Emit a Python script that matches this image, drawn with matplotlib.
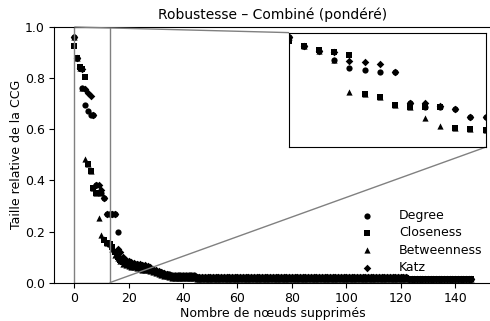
import matplotlib
matplotlib.use("Agg")
import matplotlib.pyplot as plt
import numpy as np
from mpl_toolkits.axes_grid1.inset_locator import mark_inset

title = "Robustesse – Combiné (pondéré)"
xlabel = "Nombre de nœuds supprimés"
ylabel = "Taille relative de la CCG"
labels = ["Degree", "Closeness", "Betweenness", "Katz"]
markers = ["o", "s", "^", "D"]

degree = [
    0.96, 0.88, 0.84, 0.76, 0.695, 0.67, 0.654, 0.654, 0.384, 0.35,
    0.35, 0.33, 0.267, 0.267, 0.267, 0.267, 0.197, 0.097, 0.09, 0.085,
    0.08, 0.075, 0.075, 0.072, 0.07, 0.07, 0.065, 0.06, 0.058, 0.05,
    0.045, 0.043, 0.04, 0.035, 0.035, 0.033, 0.032, 0.032, 0.032, 0.032,
    0.032, 0.032, 0.032, 0.032, 0.032,
    0.022, 0.022, 0.022, 0.022, 0.022, 0.022, 0.022, 0.022, 0.022, 0.022, 0.022, 0.022, 0.022,
    0.022, 0.022, 0.022, 0.022, 0.022, 0.022, 0.022, 0.022, 0.022, 0.022, 0.022, 0.022, 0.022,
    0.022, 0.022, 0.022, 0.022, 0.022, 0.022, 0.022, 0.022, 0.022, 0.022, 0.022, 0.022, 0.022,
    0.022, 0.022, 0.022, 0.022, 0.022, 0.022, 0.022, 0.022, 0.022, 0.022, 0.022, 0.022, 0.022,
    0.022, 0.022, 0.022, 0.022, 0.022, 0.022, 0.022, 0.022, 0.022, 0.022, 0.022, 0.022, 0.022,
    0.022, 0.022, 0.022, 0.022, 0.022, 0.022, 0.022, 0.022, 0.022, 0.022, 0.022, 0.022, 0.022,
    0.014, 0.014, 0.014, 0.014, 0.014, 0.014, 0.014, 0.014, 0.014, 0.014, 0.014, 0.014,
    0.014, 0.014, 0.014, 0.014, 0.014, 0.014, 0.014, 0.014, 0.014, 0.014, 0.014, 0.014,
]

closeness = [
    0.925, 0.88, 0.845, 0.834, 0.805, 0.465, 0.436, 0.37, 0.35, 0.35,
    0.35, 0.166, 0.157, 0.151, 0.14, 0.12, 0.10, 0.09, 0.08, 0.075,
    0.07, 0.065, 0.063, 0.063, 0.06, 0.058, 0.055, 0.05, 0.048, 0.045,
    0.04, 0.038, 0.035, 0.03, 0.03, 0.028, 0.025, 0.023, 0.02, 0.02,
    0.02, 0.02, 0.02, 0.02, 0.02,
    0.02, 0.02, 0.02, 0.02, 0.02, 0.02, 0.02, 0.02, 0.02, 0.02, 0.02, 0.02, 0.02,
    0.02, 0.02, 0.02, 0.02, 0.02, 0.02, 0.02, 0.02, 0.02, 0.02, 0.02, 0.02, 0.02,
    0.02, 0.02, 0.02, 0.02, 0.02, 0.02, 0.02, 0.02, 0.02, 0.02, 0.02, 0.02, 0.02,
    0.02, 0.02, 0.02, 0.02, 0.02, 0.02, 0.02, 0.02, 0.02, 0.02, 0.02, 0.02, 0.02,
    0.02, 0.02, 0.02, 0.02, 0.02, 0.02, 0.02, 0.02, 0.02, 0.02, 0.02, 0.02, 0.02,
    0.02, 0.02, 0.02, 0.02, 0.02, 0.02, 0.02, 0.02, 0.02, 0.02, 0.02, 0.02, 0.02,
    0.013, 0.013, 0.013, 0.013, 0.013, 0.013, 0.013, 0.013, 0.013, 0.013, 0.013, 0.013,
    0.013, 0.013, 0.013, 0.013, 0.013, 0.013, 0.013, 0.013, 0.013, 0.013, 0.013, 0.013,
]

betweenness = [
    0.96, 0.88, 0.84, 0.76, 0.485, 0.465, 0.436, 0.37, 0.35, 0.253,
    0.186, 0.17, 0.157, 0.151, 0.13, 0.11, 0.095, 0.085, 0.075, 0.07,
    0.065, 0.063, 0.06, 0.058, 0.055, 0.05, 0.05, 0.048, 0.045, 0.04,
    0.038, 0.035, 0.03, 0.028, 0.025, 0.023, 0.02, 0.02, 0.02, 0.02,
    0.02, 0.02, 0.02, 0.02, 0.02,
    0.013, 0.013, 0.013, 0.013, 0.013, 0.013, 0.013, 0.013, 0.013, 0.013, 0.013, 0.013, 0.013,
    0.013, 0.013, 0.013, 0.013, 0.013, 0.013, 0.013, 0.013, 0.013, 0.013, 0.013, 0.013, 0.013,
    0.013, 0.013, 0.013, 0.013, 0.013, 0.013, 0.013, 0.013, 0.013, 0.013, 0.013, 0.013, 0.013,
    0.013, 0.013, 0.013, 0.013, 0.013, 0.013, 0.013, 0.013, 0.013, 0.013, 0.013, 0.013, 0.013,
    0.013, 0.013, 0.013, 0.013, 0.013, 0.013, 0.013, 0.013, 0.013, 0.013, 0.013, 0.013, 0.013,
    0.013, 0.013, 0.013, 0.013, 0.013, 0.013, 0.013, 0.013, 0.013, 0.013, 0.013, 0.013, 0.013,
    0.013, 0.013, 0.013, 0.013, 0.013, 0.013, 0.013, 0.013, 0.013, 0.013, 0.013, 0.013,
    0.013, 0.013, 0.013, 0.013, 0.013, 0.013, 0.013, 0.013, 0.013, 0.013, 0.013, 0.013,
]

katz = [
    0.96, 0.88, 0.84, 0.834, 0.756, 0.74, 0.73, 0.654, 0.384, 0.384,
    0.363, 0.33, 0.267, 0.267, 0.267, 0.267, 0.13, 0.12, 0.10, 0.09,
    0.085, 0.08, 0.078, 0.075, 0.072, 0.07, 0.068, 0.065, 0.06, 0.055,
    0.05, 0.045, 0.04, 0.038, 0.035, 0.03, 0.025, 0.025, 0.025, 0.025,
    0.025, 0.025, 0.025, 0.025, 0.025,
    0.022, 0.022, 0.022, 0.022, 0.022, 0.022, 0.022, 0.022, 0.022, 0.022, 0.022, 0.022, 0.022,
    0.022, 0.022, 0.022, 0.022, 0.022, 0.022, 0.022, 0.022, 0.022, 0.022, 0.022, 0.022, 0.022,
    0.022, 0.022, 0.022, 0.022, 0.022, 0.022, 0.022, 0.022, 0.022, 0.022, 0.022, 0.022, 0.022,
    0.022, 0.022, 0.022, 0.022, 0.022, 0.022, 0.022, 0.022, 0.022, 0.022, 0.022, 0.022, 0.022,
    0.022, 0.022, 0.022, 0.022, 0.022, 0.022, 0.022, 0.022, 0.022, 0.022, 0.022, 0.022, 0.022,
    0.022, 0.022, 0.022, 0.022, 0.022, 0.022, 0.022, 0.022, 0.022, 0.022, 0.022, 0.022, 0.022,
    0.014, 0.014, 0.014, 0.014, 0.014, 0.014, 0.014, 0.014, 0.014, 0.014, 0.014, 0.014,
    0.014, 0.014, 0.014, 0.014, 0.014, 0.014, 0.014, 0.014, 0.014, 0.014, 0.014, 0.014,
]

series = [degree, closeness, betweenness, katz]

fig = plt.figure(figsize=(4.9, 3.21), dpi=100)
ax = fig.add_axes([0.111, 0.1193, 0.8916, 0.7966])

sizes = [20, 17, 20, 15]
for vals, lab, mk, s in zip(series, labels, markers, sizes):
    x = np.arange(len(vals))
    ax.scatter(x, vals, marker=mk, s=s, color="black", label=lab, linewidths=0)

ax.set_xlim(-7.3, 153.3)
ax.set_ylim(0, 1)
ax.set_xticks([0, 20, 40, 60, 80, 100, 120, 140])
ax.set_yticks([0.0, 0.2, 0.4, 0.6, 0.8, 1.0])
ax.tick_params(labelsize=9)
ax.set_title(title, fontsize=10)
ax.set_xlabel(xlabel, fontsize=9, labelpad=1)
ax.set_ylabel(ylabel, fontsize=9, labelpad=1)
ax.legend(loc="lower right", frameon=False, fontsize=9, handletextpad=1.6,
          labelspacing=0.35, borderaxespad=0.3)

axins = ax.inset_axes([0.537, 0.53, 0.45, 0.448])
for vals, mk, s in zip(series, markers, sizes):
    x = np.arange(len(vals))
    axins.scatter(x, vals, marker=mk, s=s, color="black", linewidths=0)
axins.set_xlim(0, 13)
axins.set_ylim(0, 1)
axins.set_xticks([])
axins.set_yticks([])
mark_inset(ax, axins, loc1=2, loc2=4, fc="none", ec="0.5", lw=1.0)

fig.savefig("out.png", dpi=100)
